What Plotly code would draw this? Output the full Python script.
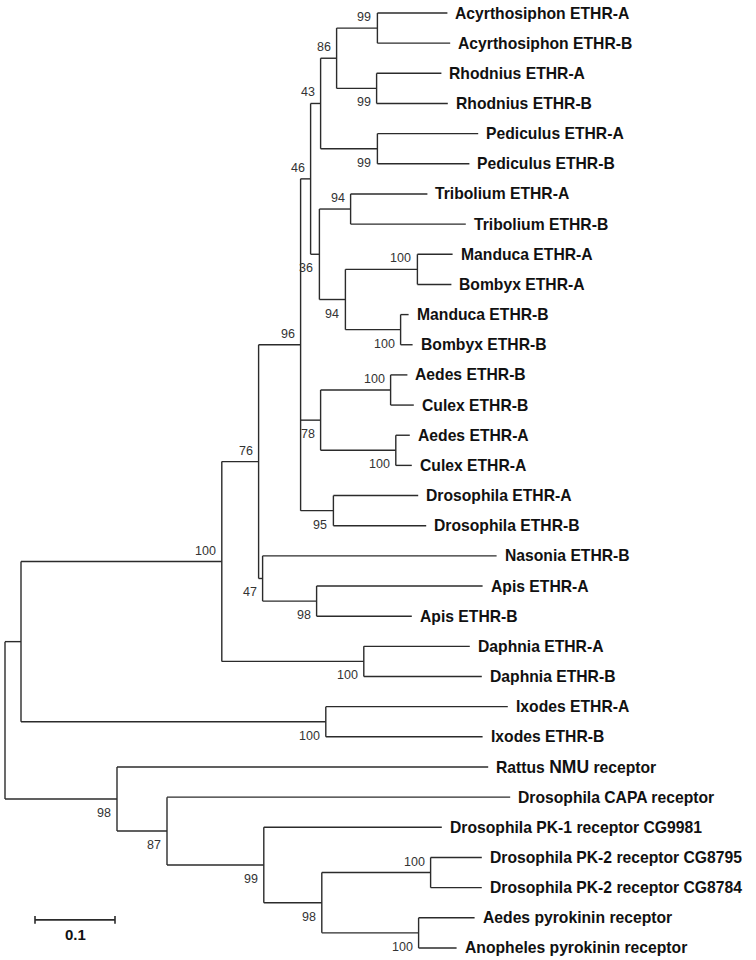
import plotly.graph_objects as go

# tree topology with branch lengths (substitutions/site) and bootstrap values on internal nodes
newick = (
    "(((((((((Acyrthosiphon_ETHR-A:0.0875,Acyrthosiphon_ETHR-B:0.091)99:0.051,"
    "(Rhodnius_ETHR-A:0.081,Rhodnius_ETHR-B:0.089)99:0.05)86:0.02,"
    "(Pediculus_ETHR-A:0.126,Pediculus_ETHR-B:0.115)99:0.071)43:0.0125,"
    "((Tribolium_ETHR-A:0.096,Tribolium_ETHR-B:0.144)94:0.039,"
    "((Manduca_ETHR-A:0.044,Bombyx_ETHR-A:0.0425)100:0.09,"
    "(Manduca_ETHR-B:0.01,Bombyx_ETHR-B:0.015)100:0.069)94:0.0325)36:0.011)46:0.0125,"
    "((Aedes_ETHR-B:0.021,Culex_ETHR-B:0.029)100:0.0875,"
    "(Aedes_ETHR-A:0.0175,Culex_ETHR-A:0.02)100:0.094)78:0.025,"
    "(Drosophila_ETHR-A:0.106,Drosophila_ETHR-B:0.116)95:0.041)96:0.0525,"
    "(Nasonia_ETHR-B:0.2925,(Apis_ETHR-A:0.2075,Apis_ETHR-B:0.119)98:0.0675)47:0.005)76:0.046,"
    "(Daphnia_ETHR-A:0.1325,Daphnia_ETHR-B:0.1475)100:0.1775)100:0.251,"
    "(Ixodes_ETHR-A:0.2275,Ixodes_ETHR-B:0.196)100:0.381):0.02,"
    "(Rattus_NMU_receptor:0.464,(Drosophila_CAPA_receptor:0.429,"
    "(Drosophila_PK-1_receptor_CG9981:0.2225,"
    "((Drosophila_PK-2_receptor_CG8795:0.064,Drosophila_PK-2_receptor_CG8784:0.064)100:0.136,"
    "(Aedes_pyrokinin_receptor:0.07,Anopheles_pyrokinin_receptor:0.0475)100:0.121)98:0.0725)99:0.121)87:0.0625)98:0.14);"
)

scale_len = 0.1
scale_label = "0.1"

LABEL_FONT = "Liberation Sans, Arial"


def parse(s):
    pos = 0

    def node():
        nonlocal pos
        n = {"children": [], "name": "", "len": 0.0}
        if s[pos] == "(":
            pos += 1
            n["children"].append(node())
            while s[pos] == ",":
                pos += 1
                n["children"].append(node())
            pos += 1
        start = pos
        while s[pos] not in ":,);":
            pos += 1
        n["name"] = s[start:pos]
        if s[pos] == ":":
            pos += 1
            start = pos
            while s[pos] not in ",);":
                pos += 1
            n["len"] = float(s[start:pos])
        return n

    return node()


tree = parse(newick)

leaf_count = [0]


def layout(n, x):
    n["x"] = x
    if n["children"]:
        for c in n["children"]:
            layout(c, x + c["len"])
        n["y"] = (n["children"][0]["y"] + n["children"][-1]["y"]) / 2
    else:
        n["y"] = leaf_count[0]
        leaf_count[0] += 1


layout(tree, 0.0)

xs, ys = [], []
annotations = []


def draw(n):
    if not n["children"]:
        label = n["name"].replace("_", " ")
        if "NMU" in label:
            label = label.replace("NMU", "<span style='font-size:17.5px'>NMU</span>")
        annotations.append(dict(x=n["x"], y=n["y"], text=label, showarrow=False,
                                xanchor="left", yanchor="middle", xshift=6,
                                font=dict(family=LABEL_FONT, size=15.7,
                                          color="#111111", weight="bold")))
        return
    first, last = n["children"][0], n["children"][-1]
    xs.extend([n["x"], n["x"], None])
    ys.extend([first["y"], last["y"], None])
    for i, c in enumerate(n["children"]):
        xs.extend([n["x"], c["x"], None])
        ys.extend([c["y"], c["y"], None])
        if c["children"] and c["name"]:
            annotations.append(dict(x=c["x"], y=c["y"], text=c["name"], showarrow=False,
                                    xanchor="right",
                                    yanchor="bottom" if i == 0 else "top",
                                    xshift=-4, yshift=2 if i == 0 else -5,
                                    font=dict(family=LABEL_FONT, size=12.5,
                                              color="#333333")))
        draw(c)


draw(tree)

fig = go.Figure()
fig.add_trace(go.Scatter(x=xs, y=ys, mode="lines",
                         line=dict(color="#2b2b2b", width=1.4),
                         hoverinfo="skip", showlegend=False))

# scale bar
sb_x0 = 0.0375
sb_y = 30.07
fig.add_trace(go.Scatter(
    x=[sb_x0, sb_x0 + scale_len, None, sb_x0, sb_x0, None, sb_x0 + scale_len, sb_x0 + scale_len],
    y=[sb_y, sb_y, None, sb_y - 0.13, sb_y + 0.13, None, sb_y - 0.13, sb_y + 0.13],
    mode="lines", line=dict(color="#2b2b2b", width=1.6),
    hoverinfo="skip", showlegend=False))
annotations.append(dict(x=sb_x0 + scale_len / 2, y=sb_y, text=scale_label, showarrow=False,
                        xanchor="center", yanchor="top", yshift=-4,
                        font=dict(family=LABEL_FONT, size=15,
                                  color="#111111", weight="bold")))

fig.update_layout(
    width=756, height=960,
    margin=dict(l=0, r=0, t=0, b=0),
    plot_bgcolor="white", paper_bgcolor="white",
    xaxis=dict(range=[-0.00625, 0.93875], visible=False, fixedrange=True),
    yaxis=dict(range=[31.40, -0.431], visible=False, fixedrange=True),
    annotations=annotations,
)

# drop the default body margin so the figure sits in the window corner
fig.write_html("out.html", config={"displayModeBar": False},
               post_script="document.body.style.margin='0';")
